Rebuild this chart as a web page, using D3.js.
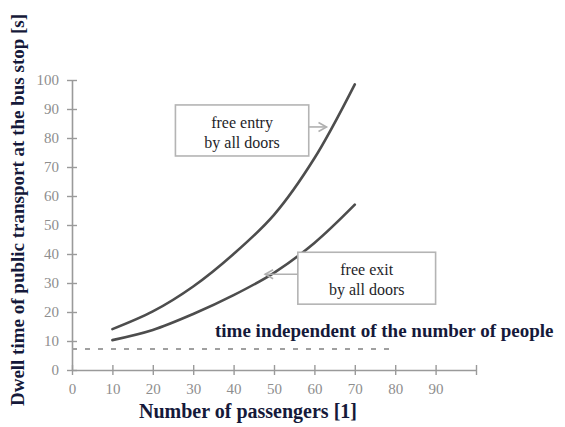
<!DOCTYPE html>
<html>
<head>
<meta charset="utf-8">
<script src="https://cdn.jsdelivr.net/npm/d3@7"></script>
<style>
  html, body { margin: 0; padding: 0; background: #fff; }
  svg { display: block; }
  .note { font-family: "Liberation Serif", serif; }
</style>
</head>
<body>
<svg id="chart" width="565" height="427"></svg>
<script>
// Passenger counts at which the dwell time was evaluated
const passengers = [10, 20, 30, 40, 50, 60, 70];
// Dwell time [s] with free entry by all doors
const freeEntry = [14.1, 20.2, 28.8, 40, 53.5, 73, 98.5];
// Dwell time [s] with free exit by all doors
const freeExit = [10.3, 13.8, 19.3, 25.8, 33.5, 43.8, 57];
// Constant part of the dwell time (independent of the number of people)
const constantTime = 7.2;
const constantRange = [0, 80];
// Axis ticks
const xTicks = [0, 10, 20, 30, 40, 50, 60, 70, 80, 90, 100];
const xTickLabels = ["0", "10", "20", "30", "40", "50", "60", "70", "80", "90", ""];
const yTicks = [0, 10, 20, 30, 40, 50, 60, 70, 80, 90, 100];

const svg = d3.select("#chart");
const x = d3.scaleLinear().domain([0, 100]).range([72, 476]);
const y = d3.scaleLinear().domain([0, 100]).range([370, 80]);

const axisColor = "#9a9a9a";
const tickTextColor = "#8e8e8e";
const titleColor = "#15193a";

// Axes
const xAxis = svg.append("g").attr("transform", `translate(0,${y(0)})`)
  .call(d3.axisBottom(x).tickValues(xTicks)
    .tickFormat((d, i) => xTickLabels[i]).tickSize(0).tickPadding(13));
xAxis.select(".domain").attr("stroke", axisColor).attr("stroke-width", 1.6);
xAxis.selectAll(".tick").append("line")
  .attr("y1", -5).attr("y2", 5).attr("stroke", axisColor).attr("stroke-width", 1.4);
xAxis.selectAll(".tick text")
  .attr("fill", tickTextColor).attr("font-family", "Liberation Serif, serif").attr("font-size", 15);

const yAxis = svg.append("g").attr("transform", `translate(${x(0)},0)`)
  .call(d3.axisLeft(y).tickValues(yTicks).tickSize(0).tickPadding(13));
yAxis.select(".domain").attr("stroke", axisColor).attr("stroke-width", 1.6);
yAxis.selectAll(".tick").append("line")
  .attr("x1", -5).attr("x2", 5).attr("stroke", axisColor).attr("stroke-width", 1.4);
yAxis.selectAll(".tick text")
  .attr("fill", tickTextColor).attr("font-family", "Liberation Serif, serif").attr("font-size", 15);

// Constant dwell time (dashed)
svg.append("line")
  .attr("x1", x(constantRange[0])).attr("x2", x(constantRange[1]))
  .attr("y1", y(constantTime)).attr("y2", y(constantTime))
  .attr("stroke", "#a0a0a0").attr("stroke-width", 2).attr("stroke-dasharray", "5,8");

// Dwell time curves
const line = d3.line().x((d, i) => x(passengers[i])).y(d => y(d)).curve(d3.curveCatmullRom.alpha(0.5));
[freeEntry, freeExit].forEach(series => {
  svg.append("path").attr("d", line(series))
    .attr("fill", "none").attr("stroke", "#4d4d4d").attr("stroke-width", 2.6)
    .attr("stroke-linecap", "round");
});

// Annotation boxes with arrows pointing at the curves
function note(lines, box, arrow) {
  const g = svg.append("g");
  const bx = x(box[0]), by = y(box[1]), bw = x(box[2]) - x(box[0]), bh = y(box[1] - box[3]) - y(box[1]);
  g.append("rect").attr("x", bx).attr("y", by).attr("width", bw).attr("height", bh)
    .attr("fill", "#fff").attr("stroke", "#b4b4b4").attr("stroke-width", 1.6);
  lines.forEach((t, i) => {
    g.append("text").attr("class", "note").attr("x", bx + bw / 2).attr("y", by + 23 + i * 20)
      .attr("text-anchor", "middle")
      .attr("font-size", 16).attr("fill", "#1e1e28").text(t);
  });
  const ax0 = x(arrow[0]), ax1 = x(arrow[1]), ay = by + 22;
  const dir = Math.sign(ax1 - ax0);
  g.append("line").attr("x1", ax0).attr("x2", ax1).attr("y1", ay).attr("y2", ay)
    .attr("stroke", "#b0b0b0").attr("stroke-width", 1.6);
  g.append("path")
    .attr("d", `M${ax1 - dir * 8},${ay - 4.5}L${ax1},${ay}L${ax1 - dir * 8},${ay + 4.5}`)
    .attr("fill", "none").attr("stroke", "#b0b0b0").attr("stroke-width", 1.6);
}
note(["free entry", "by all doors"], [25.6, 91.4, 58.6, 17.6], [58.6, 63]);
note(["free exit", "by all doors"], [55.9, 40.6, 90, 17.9], [55.9, 47.8]);

// Label of the dashed line
svg.append("text").attr("x", 215).attr("y", 337)
  .attr("font-family", "Liberation Serif, serif").attr("font-weight", "bold")
  .attr("font-size", 19).attr("fill", titleColor)
  .text("time independent of the number of people");

// Axis titles
svg.append("text").attr("x", 139).attr("y", 418)
  .attr("font-family", "Liberation Serif, serif").attr("font-weight", "bold")
  .attr("font-size", 20).attr("fill", titleColor)
  .text("Number of passengers [1]");
svg.append("text").attr("transform", "translate(24,210) rotate(-90)")
  .attr("text-anchor", "middle")
  .attr("font-family", "Liberation Serif, serif").attr("font-weight", "bold")
  .attr("font-size", 19).attr("fill", titleColor)
  .text("Dwell time of public transport at the bus stop [s]");
</script>
</body>
</html>
